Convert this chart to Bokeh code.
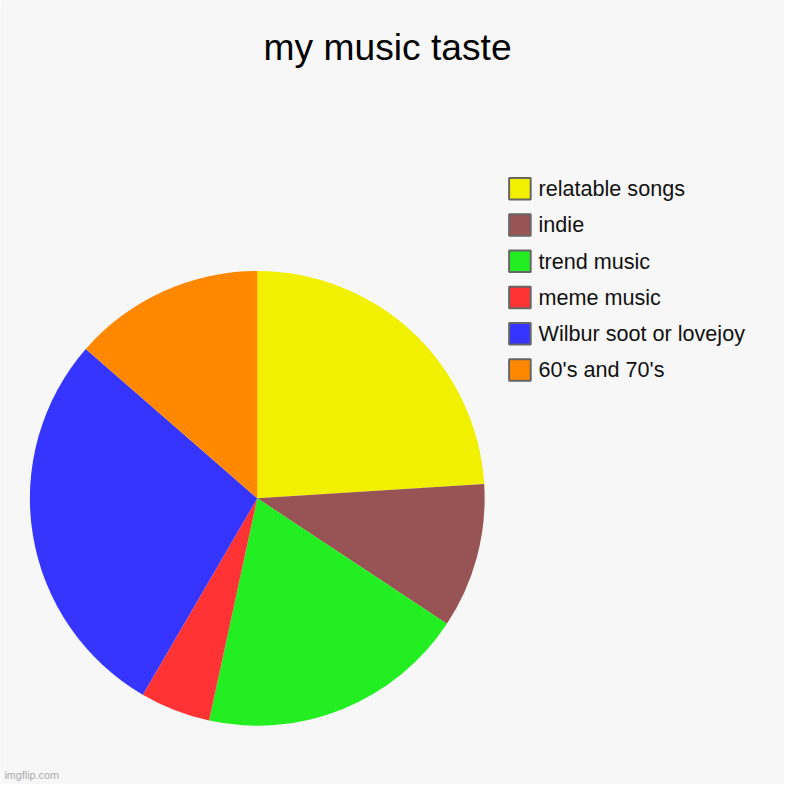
import math
from bokeh.plotting import figure
from bokeh.models import Range1d, ColumnDataSource
from bokeh.core.properties import value
from bokeh.embed import file_html
from bokeh.resources import INLINE

title_text = "my music taste"
categories = ["relatable songs", "indie", "trend music", "meme music",
              "Wilbur soot or lovejoy", "60's and 70's"]
values = [24, 10.3, 19.1, 5, 28, 13.6]
colors = ["#f0f000", "#985454", "#22ee22", "#ff3333", "#3535ff", "#ff8800"]

W = H = 784
S = W / 800.0
BG = "#f7f7f7"
FONT = "Liberation Sans"

p = figure(width=W, height=H, x_range=Range1d(0, 800), y_range=Range1d(0, 800),
           output_backend="svg", toolbar_location=None, min_border=0)
p.axis.visible = False
p.grid.visible = False
p.outline_line_color = None
p.background_fill_color = BG
p.border_fill_color = BG

def Y(py):  # reference pixel y -> data y
    return 800 - py

def fs(px):
    return "%.1fpx" % (px * S)

# pie
total = sum(values)
starts, ends = [], []
cum = 0.0
for v in values:
    starts.append(math.pi / 2 - cum / total * 2 * math.pi)
    cum += v
    ends.append(math.pi / 2 - cum / total * 2 * math.pi)
src = ColumnDataSource(dict(start=starts, end=ends, color=colors))
p.wedge(x=262, y=Y(508), radius=232, start_angle="start", end_angle="end",
        direction="clock", fill_color="color", line_color=None, source=src)

# title
p.text(x=[395], y=[Y(47)], text=[title_text], text_font=value(FONT),
       text_font_size=fs(38), text_align="center", text_baseline="middle",
       text_color="#000000")

# legend
n = len(categories)
ly = [Y(192 + 37 * i) for i in range(n)]
lsrc = ColumnDataSource(dict(x=[530] * n, tx=[549] * n, y=ly,
                             color=colors, label=categories))
p.rect(x="x", y="y", width=22, height=22, fill_color="color",
       line_color="#666666", line_width=2, source=lsrc)
p.text(x="tx", y="y", text="label", text_font=value(FONT), text_font_size=fs(22),
       text_align="left", text_baseline="middle", text_color="#111111", source=lsrc)

# watermark
p.text(x=[4], y=[Y(790)], text=["imgflip.com"], text_font=value(FONT),
       text_font_size=fs(11), text_align="left", text_baseline="middle",
       text_color="#aaaaaa")

open("out.html", "w").write(file_html(p, INLINE))
